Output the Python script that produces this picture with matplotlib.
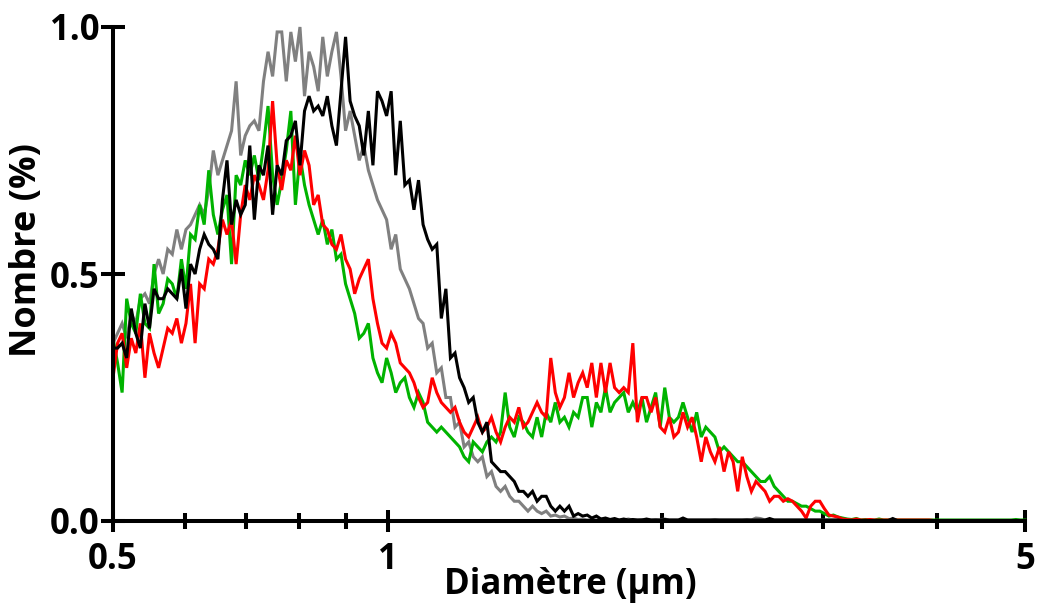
import numpy as np
import matplotlib
matplotlib.use("Agg")
import matplotlib.pyplot as plt
from matplotlib.ticker import FixedLocator, FixedFormatter, NullFormatter

# Log-spaced size bins (µm)
diametre = np.geomspace(0.5, 5.0, 201)

gris = [
    0.36, 0.38, 0.40, 0.37, 0.42, 0.40, 0.45, 0.46, 0.44, 0.50,
    0.53, 0.50, 0.55, 0.54, 0.59, 0.55, 0.59, 0.60, 0.62, 0.64,
    0.62, 0.67, 0.75, 0.70, 0.73, 0.76, 0.79, 0.89, 0.74, 0.78,
    0.80, 0.81, 0.79, 0.89, 0.95, 0.90, 0.99, 0.99, 0.89, 0.99,
    0.93, 1.00, 0.86, 0.95, 0.92, 0.87, 0.98, 0.90, 0.95, 0.99,
    0.90, 0.79, 0.83, 0.78, 0.73, 0.76, 0.71, 0.68, 0.65, 0.63,
    0.61, 0.55, 0.58, 0.51, 0.49, 0.47, 0.44, 0.41, 0.40, 0.35,
    0.36, 0.30, 0.31, 0.25, 0.25, 0.19, 0.20, 0.15, 0.16, 0.13,
    0.12, 0.13, 0.09, 0.10, 0.07, 0.06, 0.07, 0.05, 0.04, 0.04,
    0.03, 0.02, 0.03, 0.02, 0.015, 0.02, 0.01, 0.012, 0.008, 0.01,
    0.005, 0.006, 0.003, 0.004, 0.002, 0.003, 0.002, 0.004, 0.002, 0.002,
    0.003, 0.002, 0.002, 0.004, 0.002, 0.002, 0.003, 0.002, 0.002, 0.003,
    0.002, 0.004, 0.002, 0.002, 0.002, 0.003, 0.002, 0.002, 0.002, 0.002,
    0.002, 0.002, 0.003, 0.002, 0.002, 0.002, 0.002, 0.002, 0.002, 0.003,
    0.002, 0.006, 0.005, 0.002, 0.002, 0.002, 0.002, 0.002, 0.002, 0.002,
    0.002, 0.002, 0.002, 0.002, 0.002, 0.002, 0.002, 0.002, 0.002, 0.002,
    0.001, 0.001, 0.001, 0.001, 0.001, 0.001, 0.001, 0.001, 0.001, 0.001,
    0.001, 0.001, 0.001, 0.001, 0.001, 0.001, 0.001, 0.001, 0.001, 0.001,
    0.001, 0.001, 0.001, 0.001, 0.001, 0.001, 0.001, 0.001, 0.001, 0.001,
    0.001, 0.001, 0.001, 0.001, 0.001, 0.001, 0.001, 0.001, 0.001, 0.001,
    0.001,
]

noir = [
    0.35, 0.35, 0.36, 0.33, 0.43, 0.38, 0.35, 0.44, 0.39, 0.47,
    0.45, 0.45, 0.47, 0.46, 0.45, 0.51, 0.43, 0.52, 0.50, 0.55,
    0.58, 0.56, 0.55, 0.53, 0.65, 0.73, 0.60, 0.65, 0.62, 0.64,
    0.76, 0.61, 0.72, 0.70, 0.76, 0.62, 0.72, 0.70, 0.77, 0.78,
    0.81, 0.72, 0.83, 0.86, 0.83, 0.84, 0.82, 0.86, 0.80, 0.76,
    0.87, 0.98, 0.85, 0.82, 0.80, 0.74, 0.83, 0.72, 0.87, 0.85,
    0.82, 0.87, 0.70, 0.81, 0.68, 0.69, 0.63, 0.69, 0.60, 0.57,
    0.55, 0.56, 0.41, 0.47, 0.33, 0.34, 0.29, 0.27, 0.24, 0.25,
    0.20, 0.18, 0.20, 0.12, 0.11, 0.10, 0.10, 0.09, 0.08, 0.06,
    0.06, 0.05, 0.06, 0.04, 0.05, 0.05, 0.03, 0.02, 0.03, 0.02,
    0.03, 0.01, 0.015, 0.01, 0.012, 0.006, 0.01, 0.004, 0.006, 0.003,
    0.005, 0.002, 0.004, 0.002, 0.003, 0.002, 0.002, 0.004, 0.002, 0.002,
    0.002, 0.003, 0.002, 0.002, 0.002, 0.006, 0.002, 0.002, 0.002, 0.002,
    0.002, 0.002, 0.002, 0.002, 0.002, 0.002, 0.002, 0.002, 0.002, 0.002,
    0.002, 0.002, 0.002, 0.002, 0.005, 0.002, 0.002, 0.002, 0.002, 0.002,
    0.002, 0.002, 0.002, 0.002, 0.002, 0.002, 0.002, 0.002, 0.002, 0.002,
    0.001, 0.001, 0.001, 0.001, 0.001, 0.001, 0.001, 0.001, 0.001, 0.001,
    0.001, 0.005, 0.001, 0.001, 0.001, 0.001, 0.001, 0.001, 0.001, 0.001,
    0.001, 0.001, 0.001, 0.001, 0.001, 0.001, 0.001, 0.001, 0.001, 0.001,
    0.001, 0.001, 0.001, 0.001, 0.001, 0.001, 0.001, 0.001, 0.001, 0.001,
    0.001,
]

vert = [
    0.37, 0.32, 0.26, 0.45, 0.40, 0.38, 0.46, 0.40, 0.39, 0.52,
    0.42, 0.44, 0.49, 0.48, 0.45, 0.53, 0.47, 0.58, 0.57, 0.64,
    0.60, 0.71, 0.62, 0.58, 0.63, 0.66, 0.52, 0.70, 0.68, 0.73,
    0.70, 0.74, 0.69, 0.76, 0.84, 0.70, 0.64, 0.69, 0.75, 0.83,
    0.64, 0.74, 0.68, 0.64, 0.61, 0.58, 0.61, 0.56, 0.59, 0.53,
    0.54, 0.48, 0.45, 0.42, 0.37, 0.38, 0.40, 0.33, 0.30, 0.28,
    0.33, 0.30, 0.26, 0.28, 0.29, 0.25, 0.23, 0.26, 0.24, 0.20,
    0.19, 0.18, 0.19, 0.18, 0.17, 0.16, 0.15, 0.13, 0.12, 0.16,
    0.15, 0.14, 0.16, 0.17, 0.16, 0.18, 0.26, 0.19, 0.17, 0.21,
    0.20, 0.18, 0.17, 0.21, 0.17, 0.22, 0.20, 0.24, 0.20, 0.21,
    0.19, 0.22, 0.21, 0.25, 0.25, 0.19, 0.24, 0.22, 0.27, 0.22,
    0.24, 0.25, 0.26, 0.22, 0.24, 0.22, 0.25, 0.20, 0.23, 0.26,
    0.19, 0.27, 0.21, 0.20, 0.21, 0.24, 0.21, 0.18, 0.22, 0.17,
    0.19, 0.18, 0.17, 0.14, 0.15, 0.14, 0.13, 0.12, 0.12, 0.11,
    0.10, 0.09, 0.08, 0.08, 0.09, 0.07, 0.06, 0.05, 0.04, 0.04,
    0.035, 0.03, 0.03, 0.025, 0.02, 0.02, 0.015, 0.01, 0.012, 0.008,
    0.006, 0.004, 0.003, 0.005, 0.002, 0.003, 0.002, 0.002, 0.004, 0.002,
    0.002, 0.002, 0.002, 0.002, 0.002, 0.002, 0.002, 0.002, 0.002, 0.002,
    0.002, 0.002, 0.002, 0.002, 0.002, 0.002, 0.002, 0.002, 0.002, 0.002,
    0.002, 0.002, 0.002, 0.002, 0.002, 0.002, 0.002, 0.002, 0.003, 0.002,
    0.002,
]

rouge = [
    0.29, 0.36, 0.38, 0.31, 0.37, 0.34, 0.40, 0.29, 0.38, 0.34,
    0.31, 0.35, 0.39, 0.38, 0.41, 0.36, 0.40, 0.48, 0.36, 0.48,
    0.47, 0.53, 0.52, 0.55, 0.61, 0.58, 0.61, 0.52, 0.62, 0.68,
    0.65, 0.70, 0.68, 0.65, 0.71, 0.85, 0.72, 0.67, 0.73, 0.71,
    0.78, 0.70, 0.75, 0.72, 0.64, 0.66, 0.60, 0.59, 0.56, 0.55,
    0.58, 0.53, 0.51, 0.46, 0.49, 0.51, 0.53, 0.45, 0.40, 0.36,
    0.35, 0.38, 0.36, 0.32, 0.31, 0.30, 0.28, 0.25, 0.23, 0.24,
    0.29, 0.26, 0.24, 0.23, 0.22, 0.23, 0.20, 0.18, 0.17, 0.19,
    0.21, 0.18, 0.19, 0.21, 0.18, 0.16, 0.19, 0.21, 0.20, 0.23,
    0.19, 0.20, 0.22, 0.24, 0.22, 0.21, 0.33, 0.26, 0.23, 0.25,
    0.30, 0.25, 0.28, 0.30, 0.27, 0.32, 0.25, 0.32, 0.26, 0.32,
    0.27, 0.26, 0.27, 0.26, 0.36, 0.20, 0.25, 0.25, 0.22, 0.25,
    0.19, 0.18, 0.21, 0.17, 0.18, 0.22, 0.19, 0.21, 0.17, 0.12,
    0.17, 0.14, 0.12, 0.15, 0.10, 0.14, 0.12, 0.06, 0.13, 0.09,
    0.06, 0.08, 0.07, 0.06, 0.04, 0.05, 0.05, 0.04, 0.045, 0.04,
    0.03, 0.02, 0.006, 0.03, 0.04, 0.04, 0.025, 0.012, 0.01, 0.008,
    0.004, 0.003, 0.002, 0.004, 0.002, 0.002, 0.003, 0.002, 0.002, 0.002,
    0.002, 0.002, 0.002, 0.002, 0.002, 0.002, 0.002, 0.002, 0.002, 0.002,
    0.001, 0.001, 0.001, 0.001, 0.001, 0.001, 0.001, 0.001, 0.001, 0.001,
    0.001, 0.001, 0.001, 0.001, 0.001, 0.001, 0.001, 0.001, 0.001, 0.001,
    0.001,
]

x_major = [0.5, 1, 5]
x_major_labels = ["0.5", "1", "5"]
x_minor = [0.6, 0.7, 0.8, 0.9, 2, 3, 4]
y_major = [0.0, 0.5, 1.0]
y_major_labels = ["0.0", "0.5", "1.0"]

FONT = "Open Sans"
plt.rcParams["font.family"] = [FONT, "DejaVu Sans"]
plt.rcParams["font.weight"] = "bold"

fig = plt.figure(figsize=(10.38, 6.08), dpi=100)
ax = fig.add_axes([113 / 1038, 87 / 608, 912 / 1038, 494 / 608])

series = [
    (gris, "#808080"),
    (vert, "#00b300"),
    (rouge, "#ff0000"),
    (noir, "#000000"),
]
for values, color in series:
    ax.plot(diametre, values, color=color, lw=2.2, solid_joinstyle="miter",
            clip_on=False, zorder=2)

ax.set_xscale("log")
ax.set_xlim(0.5, 5.0)
ax.set_ylim(0.0, 1.0)

for side in ("top", "right"):
    ax.spines[side].set_visible(False)
for side in ("left", "bottom"):
    ax.spines[side].set_linewidth(2.9)
    ax.spines[side].set_zorder(3)

ax.xaxis.set_major_locator(FixedLocator(x_major))
ax.xaxis.set_major_formatter(FixedFormatter(x_major_labels))
ax.xaxis.set_minor_locator(FixedLocator(x_minor))
ax.xaxis.set_minor_formatter(NullFormatter())
ax.yaxis.set_major_locator(FixedLocator(y_major))
ax.yaxis.set_major_formatter(FixedFormatter(y_major_labels))
ax.yaxis.set_minor_locator(FixedLocator([]))

ax.tick_params(axis="x", which="major", direction="inout", length=16,
               width=2.9, pad=7, labelsize=25)
ax.tick_params(axis="x", which="minor", direction="inout", length=11,
               width=2.9)
ax.tick_params(axis="y", which="major", direction="inout", length=17,
               width=2.9, pad=1, labelsize=25)

ax.set_xlabel("Diamètre (µm)", fontsize=25, fontweight="bold", va="center")
ax.xaxis.set_label_coords(0.501, -0.130)
ax.set_ylabel("Nombre (%)", fontsize=26, fontweight="bold", va="center",
              ha="center")
ax.yaxis.set_label_coords(-0.094, 0.549)

fig.savefig("out.png", dpi=100)
